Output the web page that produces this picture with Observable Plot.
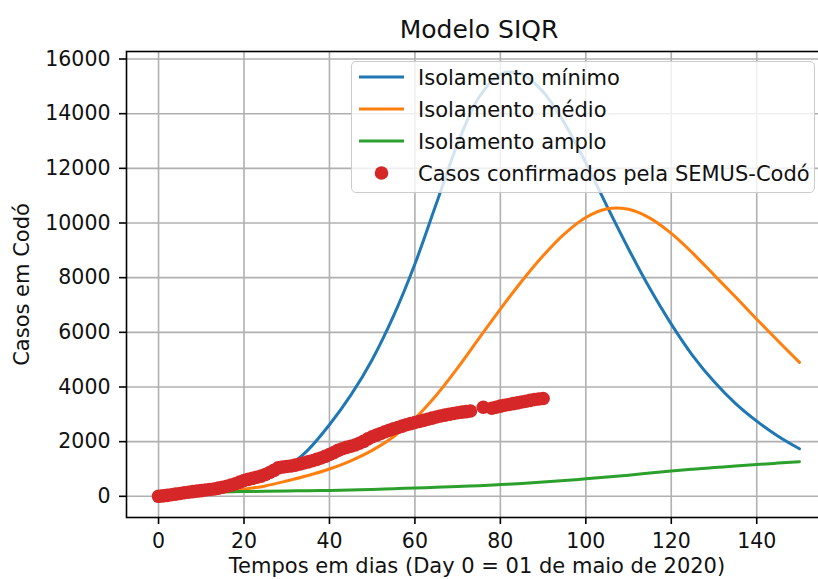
<!DOCTYPE html>
<html><head><meta charset="utf-8">
<script src="https://cdn.jsdelivr.net/npm/d3@7"></script>
<script src="https://cdn.jsdelivr.net/npm/@observablehq/plot@0.6"></script>
<style>
html,body{margin:0;padding:0;background:#fff;overflow:hidden;}
#wrap{position:relative;width:818px;height:579px;overflow:hidden;font-family:"DejaVu Sans",sans-serif;}
#wrap svg{display:block;}
#legend{position:absolute;left:351px;top:61px;width:462px;height:130px;border:1.6px solid #cccccc;border-radius:5px;background:rgba(255,255,255,0.8);}
.row{position:absolute;left:0;height:32px;width:100%;}
.row svg{position:absolute;left:7px;top:0;}
.row span{position:absolute;left:66px;top:0;line-height:32px;font-size:21px;color:#111;white-space:nowrap;transform:translateY(1px);}
</style></head>
<body><div id="wrap"></div>
<script>
// ---- data ----
const title = "Modelo SIQR";
const xLabel = "Tempos em dias (Day 0 = 01 de maio de 2020)";
const yLabel = "Casos em Codó";
const xTicks = [0, 20, 40, 60, 80, 100, 120, 140];
const yTicks = [0, 2000, 4000, 6000, 8000, 10000, 12000, 14000, 16000];

const seriesNames = ["Isolamento mínimo", "Isolamento médio", "Isolamento amplo"];
const seriesColors = ["#1f77b4", "#ff7f0e", "#2ca02c"];
const pointsName = "Casos confirmados pela SEMUS-Codó";
const pointsColor = "#d62728";

const modelDays = [0, 5, 10, 15, 20, 25, 30, 35, 40, 45, 50, 55, 60, 65, 70, 75, 80, 85, 90, 95, 100, 105, 110, 115, 120, 125, 130, 135, 140, 145, 150];
const minimo = [60, 100, 160, 260, 420, 670, 1050, 1700, 2620, 3700, 5000, 6600, 8500, 10700, 12900, 14600, 15450, 15450, 14800, 13650, 12200, 10600, 9050, 7600, 6300, 5150, 4200, 3400, 2750, 2200, 1740];
const medio = [60, 85, 120, 175, 260, 380, 560, 760, 1000, 1300, 1680, 2180, 2850, 3700, 4700, 5780, 6850, 7870, 8800, 9600, 10200, 10520, 10500, 10180, 9620, 8900, 8100, 7300, 6480, 5680, 4900];
const amplo = [100, 120, 135, 155, 175, 185, 195, 205, 215, 230, 250, 275, 305, 330, 360, 390, 430, 470, 520, 575, 640, 705, 775, 850, 925, 990, 1050, 1110, 1165, 1215, 1265];

const caseDays = [0,1,2,3,4,5,6,7,8,9,10,11,12,13,14,15,16,17,18,19,20,21,22,23,24,25,26,27,28,29,30,31,32,33,34,35,36,37,38,39,40,41,42,43,44,45,46,47,48,49,50,51,52,53,54,55,56,57,58,59,60,61,62,63,64,65,66,67,68,69,70,71,72,73,76,78,79,80,81,82,83,84,85,86,87,88,89,90];
const cases = [0,15,35,55,80,105,130,150,170,190,210,230,250,270,300,330,370,410,460,520,580,620,660,700,740,800,870,950,1040,1070,1090,1110,1140,1180,1220,1260,1300,1350,1400,1460,1530,1600,1680,1740,1790,1830,1880,1940,2010,2100,2180,2240,2300,2360,2420,2470,2520,2570,2620,2660,2700,2740,2780,2820,2860,2900,2940,2970,3000,3030,3060,3080,3100,3120,3260,3220,3260,3300,3330,3360,3390,3420,3450,3480,3510,3540,3560,3580];

// ---- tables built from the arrays ----
const seriesValues = [minimo, medio, amplo];
const modelData = seriesNames.flatMap((name, s) =>
  modelDays.map((d, i) => ({series: name, day: d, value: seriesValues[s][i]})));
const caseData = caseDays.map((d, i) => ({day: d, value: cases[i]}));

const chart = Plot.plot({
  width: 818,
  height: 579,
  marginLeft: 126,
  marginRight: -13,
  marginTop: 51,
  marginBottom: 62,
  style: {fontFamily: "DejaVu Sans", fontSize: "20.5px", color: "#111", background: "white", overflow: "hidden"},
  x: {domain: [-7.5, 157.5]},
  y: {domain: [-775, 16275]},
  color: {domain: seriesNames, range: seriesColors},
  marks: [
    Plot.gridX(xTicks, {stroke: "#b0b0b0", strokeOpacity: 1, strokeWidth: 1.6}),
    Plot.gridY(yTicks, {stroke: "#b0b0b0", strokeOpacity: 1, strokeWidth: 1.6}),
    Plot.line(modelData, {x: "day", y: "value", z: "series", stroke: "series", strokeWidth: 3, curve: "catmull-rom"}),
    Plot.dot(caseData, {x: "day", y: "value", r: 6.8, fill: pointsColor, stroke: "none"}),
    Plot.frame({stroke: "#000", strokeWidth: 1.6}),
    Plot.axisX(xTicks, {tickSize: 7, tickPadding: 9, strokeWidth: 1.6, stroke: "#000", fontSize: 20.5, fill: "#111", label: null}),
    Plot.axisY(yTicks, {tickSize: 7, tickPadding: 9, strokeWidth: 1.6, stroke: "#000", fontSize: 20.5, fill: "#111", label: null, tickFormat: d => String(d)}),
    Plot.text([title], {text: d => d, frameAnchor: "top", lineAnchor: "bottom", dy: -14, fontSize: 25, fill: "#111"}),
    Plot.text([xLabel], {text: d => d, frameAnchor: "bottom", lineAnchor: "top", dy: 41, dx: -2, fontSize: 21, fill: "#111"}),
    Plot.text([yLabel], {text: d => d, frameAnchor: "left", rotate: -90, dx: -104, textAnchor: "middle", lineAnchor: "middle", fontSize: 21, fill: "#111"})
  ]
});

const wrap = document.getElementById("wrap");
wrap.appendChild(chart);

// ---- legend (HTML overlay, built from the series arrays) ----
const legend = document.createElement("div");
legend.id = "legend";
const entries = seriesNames.map((n, i) => ({name: n, color: seriesColors[i], kind: "line"}))
  .concat([{name: pointsName, color: pointsColor, kind: "dot"}]);
entries.forEach((e, i) => {
  const row = document.createElement("div");
  row.className = "row";
  row.style.top = (15.4 + 32 * i - 16) + "px";
  const sw = d3.create("svg").attr("width", 46).attr("height", 32);
  if (e.kind === "line") {
    sw.append("line").attr("x1", 0).attr("x2", 45).attr("y1", 16).attr("y2", 16)
      .attr("stroke", e.color).attr("stroke-width", 3);
  } else {
    sw.append("circle").attr("cx", 22.5).attr("cy", 16).attr("r", 6.8).attr("fill", e.color);
  }
  row.appendChild(sw.node());
  const sp = document.createElement("span");
  sp.textContent = e.name;
  row.appendChild(sp);
  legend.appendChild(row);
});
wrap.appendChild(legend);
</script></body></html>
